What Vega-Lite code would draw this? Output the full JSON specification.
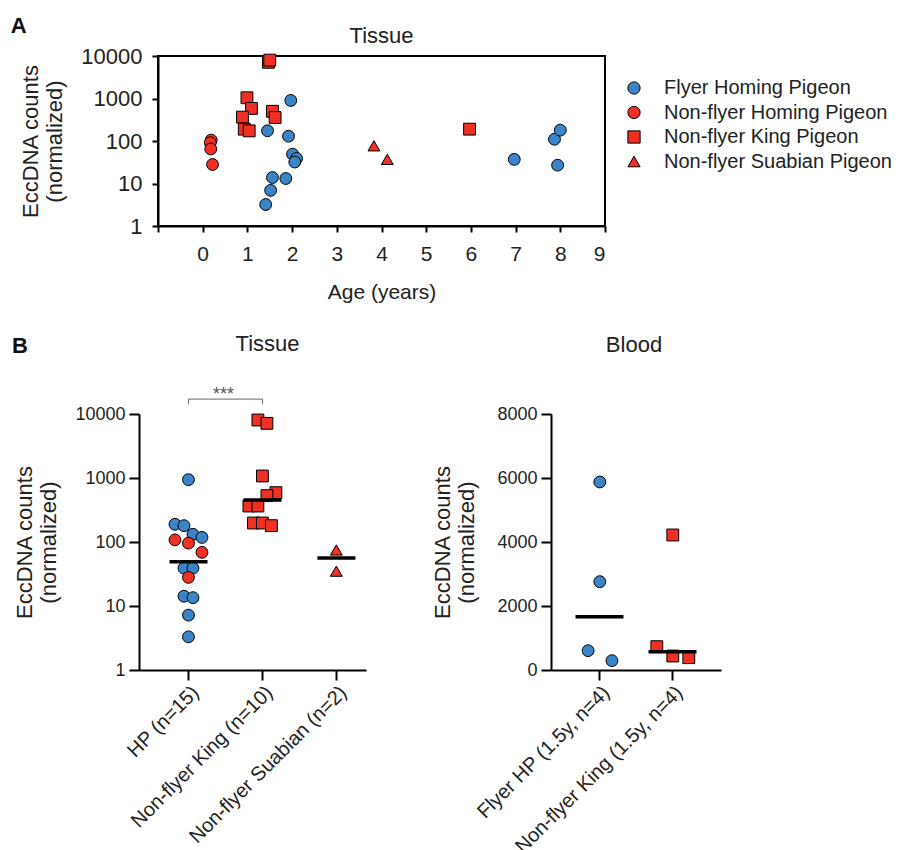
{
  "$schema": "https://vega.github.io/schema/vega-lite/v6.json",
  "background": "white",
  "padding": {"left": 10, "top": 15, "right": 5, "bottom": 5},
  "config": {
    "font": "Liberation Sans",
    "view": {"stroke": null},
    "axis": {
      "domainColor": "#000", "domainWidth": 2, "tickColor": "#000", "tickWidth": 2, "tickSize": 6,
      "labelColor": "#222", "titleColor": "#222", "titleFontWeight": "normal", "grid": false,
      "labelFont": "Liberation Sans", "titleFont": "Liberation Sans", "labelLimit": 0
    },
    "title": {"fontWeight": "normal", "fontSize": 22, "color": "#222", "font": "Liberation Sans", "frame": "group"},
    "legend": {"labelFont": "Liberation Sans", "labelLimit": 0}
  },
  "datasets": {
    "tissueA": [
      {"age": 0.19, "value": 105, "series": "Non-flyer Homing Pigeon"},
      {"age": 0.17, "value": 91, "series": "Non-flyer Homing Pigeon"},
      {"age": 0.18, "value": 65, "series": "Non-flyer Homing Pigeon"},
      {"age": 0.22, "value": 28, "series": "Non-flyer Homing Pigeon"},
      {"age": 1.47, "value": 7100, "series": "Non-flyer King Pigeon"},
      {"age": 1.5, "value": 8000, "series": "Non-flyer King Pigeon"},
      {"age": 0.99, "value": 1040, "series": "Non-flyer King Pigeon"},
      {"age": 1.09, "value": 584, "series": "Non-flyer King Pigeon"},
      {"age": 0.89, "value": 365, "series": "Non-flyer King Pigeon"},
      {"age": 0.93, "value": 190, "series": "Non-flyer King Pigeon"},
      {"age": 1.04, "value": 173, "series": "Non-flyer King Pigeon"},
      {"age": 1.56, "value": 500, "series": "Non-flyer King Pigeon"},
      {"age": 1.62, "value": 357, "series": "Non-flyer King Pigeon"},
      {"age": 5.97, "value": 190, "series": "Non-flyer King Pigeon"},
      {"age": 3.83, "value": 77, "series": "Non-flyer Suabian Pigeon"},
      {"age": 4.13, "value": 37, "series": "Non-flyer Suabian Pigeon"},
      {"age": 1.45, "value": 174, "series": "Flyer Homing Pigeon"},
      {"age": 1.97, "value": 900, "series": "Flyer Homing Pigeon"},
      {"age": 1.92, "value": 130, "series": "Flyer Homing Pigeon"},
      {"age": 2.01, "value": 49, "series": "Flyer Homing Pigeon"},
      {"age": 2.1, "value": 39, "series": "Flyer Homing Pigeon"},
      {"age": 2.06, "value": 32, "series": "Flyer Homing Pigeon"},
      {"age": 1.56, "value": 13.8, "series": "Flyer Homing Pigeon"},
      {"age": 1.86, "value": 13.1, "series": "Flyer Homing Pigeon"},
      {"age": 1.52, "value": 6.9, "series": "Flyer Homing Pigeon"},
      {"age": 1.41, "value": 3.2, "series": "Flyer Homing Pigeon"},
      {"age": 6.97, "value": 37, "series": "Flyer Homing Pigeon"},
      {"age": 7.87, "value": 110, "series": "Flyer Homing Pigeon"},
      {"age": 8.0, "value": 180, "series": "Flyer Homing Pigeon"},
      {"age": 7.94, "value": 27, "series": "Flyer Homing Pigeon"}
    ],
    "tissueB": [
      {"group": "HP (n=15)", "series": "Flyer Homing Pigeon", "value": 942, "jitter": 0},
      {"group": "HP (n=15)", "series": "Flyer Homing Pigeon", "value": 189, "jitter": -3},
      {"group": "HP (n=15)", "series": "Flyer Homing Pigeon", "value": 180, "jitter": -1},
      {"group": "HP (n=15)", "series": "Flyer Homing Pigeon", "value": 132, "jitter": 1},
      {"group": "HP (n=15)", "series": "Flyer Homing Pigeon", "value": 118, "jitter": 3},
      {"group": "HP (n=15)", "series": "Non-flyer Homing Pigeon", "value": 108, "jitter": -3},
      {"group": "HP (n=15)", "series": "Non-flyer Homing Pigeon", "value": 96, "jitter": 0},
      {"group": "HP (n=15)", "series": "Non-flyer Homing Pigeon", "value": 69, "jitter": 3},
      {"group": "HP (n=15)", "series": "Flyer Homing Pigeon", "value": 39, "jitter": -1},
      {"group": "HP (n=15)", "series": "Flyer Homing Pigeon", "value": 39, "jitter": 1},
      {"group": "HP (n=15)", "series": "Non-flyer Homing Pigeon", "value": 28, "jitter": 0},
      {"group": "HP (n=15)", "series": "Flyer Homing Pigeon", "value": 14.2, "jitter": -1},
      {"group": "HP (n=15)", "series": "Flyer Homing Pigeon", "value": 13.5, "jitter": 1},
      {"group": "HP (n=15)", "series": "Flyer Homing Pigeon", "value": 7.2, "jitter": 0},
      {"group": "HP (n=15)", "series": "Flyer Homing Pigeon", "value": 3.3, "jitter": 0},
      {"group": "Non-flyer King (n=10)", "series": "Non-flyer King Pigeon", "value": 8060, "jitter": -1},
      {"group": "Non-flyer King (n=10)", "series": "Non-flyer King Pigeon", "value": 7150, "jitter": 1},
      {"group": "Non-flyer King (n=10)", "series": "Non-flyer King Pigeon", "value": 1075, "jitter": 0},
      {"group": "Non-flyer King (n=10)", "series": "Non-flyer King Pigeon", "value": 590, "jitter": 3},
      {"group": "Non-flyer King (n=10)", "series": "Non-flyer King Pigeon", "value": 530, "jitter": 1},
      {"group": "Non-flyer King (n=10)", "series": "Non-flyer King Pigeon", "value": 365, "jitter": -3},
      {"group": "Non-flyer King (n=10)", "series": "Non-flyer King Pigeon", "value": 365, "jitter": -1},
      {"group": "Non-flyer King (n=10)", "series": "Non-flyer King Pigeon", "value": 198, "jitter": -2},
      {"group": "Non-flyer King (n=10)", "series": "Non-flyer King Pigeon", "value": 198, "jitter": 0},
      {"group": "Non-flyer King (n=10)", "series": "Non-flyer King Pigeon", "value": 180, "jitter": 2},
      {"group": "Non-flyer Suabian (n=2)", "series": "Non-flyer Suabian Pigeon", "value": 75, "jitter": 0},
      {"group": "Non-flyer Suabian (n=2)", "series": "Non-flyer Suabian Pigeon", "value": 35, "jitter": 0}
    ],
    "tissueBmedian": [
      {"group": "HP (n=15)", "median": 49},
      {"group": "Non-flyer King (n=10)", "median": 453},
      {"group": "Non-flyer Suabian (n=2)", "median": 56}
    ],
    "bracket": [
      {"group": "HP (n=15)", "y": 14300, "order": 1},
      {"group": "HP (n=15)", "y": 17100, "order": 2},
      {"group": "Non-flyer King (n=10)", "y": 17100, "order": 3},
      {"group": "Non-flyer King (n=10)", "y": 14300, "order": 4}
    ],
    "stars": [
      {"group": "HP (n=15)", "y": 19500, "label": "***"}
    ],
    "blood": [
      {"group": "Flyer HP (1.5y, n=4)", "series": "Flyer Homing Pigeon", "value": 5875, "jitter": 0},
      {"group": "Flyer HP (1.5y, n=4)", "series": "Flyer Homing Pigeon", "value": 2760, "jitter": 0},
      {"group": "Flyer HP (1.5y, n=4)", "series": "Flyer Homing Pigeon", "value": 604, "jitter": -2.6},
      {"group": "Flyer HP (1.5y, n=4)", "series": "Flyer Homing Pigeon", "value": 292, "jitter": 2.7},
      {"group": "Non-flyer King (1.5y, n=4)", "series": "Non-flyer King Pigeon", "value": 4219, "jitter": 0},
      {"group": "Non-flyer King (1.5y, n=4)", "series": "Non-flyer King Pigeon", "value": 729, "jitter": -3.55},
      {"group": "Non-flyer King (1.5y, n=4)", "series": "Non-flyer King Pigeon", "value": 437, "jitter": 0},
      {"group": "Non-flyer King (1.5y, n=4)", "series": "Non-flyer King Pigeon", "value": 385, "jitter": 3.55}
    ],
    "bloodMedian": [
      {"group": "Flyer HP (1.5y, n=4)", "median": 1667},
      {"group": "Non-flyer King (1.5y, n=4)", "median": 573}
    ]
  },
  "resolve": {"scale": {"color": "independent", "shape": "independent"}, "legend": {"color": "independent", "shape": "independent"}},
  "spacing": 30,
  "vconcat": [
    {
      "title": {"text": "A", "fontWeight": "bold", "fontSize": 22, "color": "#111", "anchor": "start", "frame": "bounds", "dx": -8, "offset": -14},
      "resolve": {"scale": {"color": "independent", "shape": "independent"}, "legend": {"color": "independent", "shape": "independent"}},
      "bounds": "flush",
      "spacing": 18,
      "hconcat": [
        {
          "width": 1,
          "height": 170,
          "data": {"values": []},
          "mark": {"type": "point", "opacity": 0},
          "encoding": {}
        },
        {
          "width": 447,
          "height": 170,
          "view": {"stroke": "#000", "strokeWidth": 2},
          "title": {"text": "Tissue", "fontSize": 22, "offset": -3},
          "data": {"name": "tissueA"},
          "mark": {"type": "point", "filled": true, "opacity": 1, "stroke": "#000", "strokeWidth": 1, "size": 140},
          "encoding": {
            "x": {
              "field": "age", "type": "quantitative",
              "scale": {"domain": [-1, 9], "nice": false, "zero": false},
              "axis": {"values": [-1, 0, 1, 2, 3, 4, 5, 6, 7, 8, 9], "labelExpr": "datum.value < 0 ? '' : datum.label", "title": "Age (years)", "labelFontSize": 21, "titleFontSize": 21, "labelPadding": 11, "titlePadding": 17}
            },
            "y": {
              "field": "value", "type": "quantitative",
              "scale": {"type": "log", "domain": [1, 10000], "nice": false},
              "axis": {"values": [1, 10, 100, 1000, 10000], "format": "d", "title": ["EccDNA counts", "(normalized)"], "labelFontSize": 22, "titleFontSize": 22, "labelPadding": 10, "titlePadding": 14}
            },
            "color": {
              "field": "series", "type": "nominal",
              "scale": {"domain": ["Flyer Homing Pigeon", "Non-flyer Homing Pigeon", "Non-flyer King Pigeon", "Non-flyer Suabian Pigeon"], "range": ["#3a84c7", "#ee3124", "#ee3124", "#ee3124"]},
              "legend": {"title": null, "labelFontSize": 20, "labelColor": "#222", "symbolSize": 150, "symbolStrokeColor": "#000", "symbolStrokeWidth": 1, "rowPadding": 4.5, "offset": -3, "padding": 22, "labelOffset": 20}
            },
            "shape": {
              "field": "series", "type": "nominal",
              "scale": {"domain": ["Flyer Homing Pigeon", "Non-flyer Homing Pigeon", "Non-flyer King Pigeon", "Non-flyer Suabian Pigeon"], "range": ["circle", "circle", "square", "triangle-up"]},
              "legend": {"title": null, "labelFontSize": 20, "labelColor": "#222", "symbolSize": 150, "symbolStrokeColor": "#000", "symbolStrokeWidth": 1, "rowPadding": 4.5, "offset": -3, "padding": 22, "labelOffset": 20}
            }
          }
        }
      ]
    },
    {
      "title": {"text": "B", "fontWeight": "bold", "fontSize": 22, "color": "#111", "anchor": "start", "frame": "bounds", "dx": -2, "offset": -25},
      "resolve": {"scale": {"color": "independent", "shape": "independent"}, "legend": {"color": "independent", "shape": "independent"}},
      "spacing": 65,
      "hconcat": [
        {
          "width": 227,
          "height": 256,
          "title": {"text": "Tissue", "fontSize": 22, "offset": 30, "dx": 15},
          "encoding": {
            "x": {
              "field": "group", "type": "nominal",
              "scale": {"domain": ["HP (n=15)", "Non-flyer King (n=10)", "Non-flyer Suabian (n=2)"], "paddingInner": 0.2, "paddingOuter": 0.135, "align": 1},
              "axis": {"title": null, "labelAngle": -45, "labelAlign": "right", "labelBaseline": "top", "labelFontSize": 20, "tickSize": 10, "labelPadding": 2}
            }
          },
          "layer": [
            {
              "data": {"name": "tissueB"},
              "mark": {"type": "point", "filled": true, "opacity": 1, "stroke": "#000", "strokeWidth": 1, "size": 140},
              "encoding": {
                "xOffset": {"field": "jitter", "type": "quantitative", "scale": {"domain": [-3, 3], "range": [16, 43]}},
                "y": {
                  "field": "value", "type": "quantitative",
                  "scale": {"type": "log", "domain": [1, 10000], "nice": false},
                  "axis": {"values": [1, 10, 100, 1000, 10000], "format": "d", "title": ["EccDNA counts", "(normalized)"], "labelFontSize": 18, "titleFontSize": 22, "tickSize": 10, "labelPadding": 4, "titlePadding": 14}
                },
                "color": {
                  "field": "series", "type": "nominal", "legend": null,
                  "scale": {"domain": ["Flyer Homing Pigeon", "Non-flyer Homing Pigeon", "Non-flyer King Pigeon", "Non-flyer Suabian Pigeon"], "range": ["#3a84c7", "#ee3124", "#ee3124", "#ee3124"]}
                },
                "shape": {
                  "field": "series", "type": "nominal", "legend": null,
                  "scale": {"domain": ["Flyer Homing Pigeon", "Non-flyer Homing Pigeon", "Non-flyer King Pigeon", "Non-flyer Suabian Pigeon"], "range": ["circle", "circle", "square", "triangle-up"]}
                }
              }
            },
            {
              "data": {"name": "tissueBmedian"},
              "mark": {"type": "tick", "color": "#000", "size": 38, "thickness": 3.5, "opacity": 1},
              "encoding": {"y": {"field": "median", "type": "quantitative"}}
            },
            {
              "data": {"name": "bracket"},
              "mark": {"type": "line", "color": "#666", "strokeWidth": 1},
              "encoding": {"y": {"field": "y", "type": "quantitative"}, "order": {"field": "order", "type": "quantitative"}}
            },
            {
              "data": {"name": "stars"},
              "mark": {"type": "text", "dx": 35, "fontSize": 18, "color": "#555", "baseline": "middle"},
              "encoding": {"y": {"field": "y", "type": "quantitative"}, "text": {"field": "label"}}
            }
          ]
        },
        {
          "width": 170,
          "height": 256,
          "title": {"text": "Blood", "fontSize": 22, "offset": 48, "dx": -2},
          "encoding": {
            "x": {
              "field": "group", "type": "nominal",
              "scale": {"domain": ["Flyer HP (1.5y, n=4)", "Non-flyer King (1.5y, n=4)"], "paddingInner": 0.2, "paddingOuter": 0.2645, "align": 0.5},
              "axis": {"title": null, "labelAngle": -45, "labelAlign": "right", "labelBaseline": "top", "labelFontSize": 20, "tickSize": 10, "labelPadding": 2}
            }
          },
          "layer": [
            {
              "data": {"name": "blood"},
              "mark": {"type": "point", "filled": true, "opacity": 1, "stroke": "#000", "strokeWidth": 1, "size": 140},
              "encoding": {
                "xOffset": {"field": "jitter", "type": "quantitative", "scale": {"domain": [-3, 3], "range": [15.7, 42.7]}},
                "y": {
                  "field": "value", "type": "quantitative",
                  "scale": {"domain": [0, 8000], "nice": false},
                  "axis": {"values": [0, 2000, 4000, 6000, 8000], "format": "d", "title": ["EccDNA counts", "(normalized)"], "labelFontSize": 18, "titleFontSize": 22, "tickSize": 10, "labelPadding": 4, "titlePadding": 18}
                },
                "color": {
                  "field": "series", "type": "nominal", "legend": null,
                  "scale": {"domain": ["Flyer Homing Pigeon", "Non-flyer Homing Pigeon", "Non-flyer King Pigeon", "Non-flyer Suabian Pigeon"], "range": ["#3a84c7", "#ee3124", "#ee3124", "#ee3124"]}
                },
                "shape": {
                  "field": "series", "type": "nominal", "legend": null,
                  "scale": {"domain": ["Flyer Homing Pigeon", "Non-flyer Homing Pigeon", "Non-flyer King Pigeon", "Non-flyer Suabian Pigeon"], "range": ["circle", "circle", "square", "triangle-up"]}
                }
              }
            },
            {
              "data": {"name": "bloodMedian"},
              "mark": {"type": "tick", "color": "#000", "size": 48, "thickness": 3.5, "opacity": 1},
              "encoding": {"y": {"field": "median", "type": "quantitative"}}
            }
          ]
        }
      ]
    }
  ]
}
